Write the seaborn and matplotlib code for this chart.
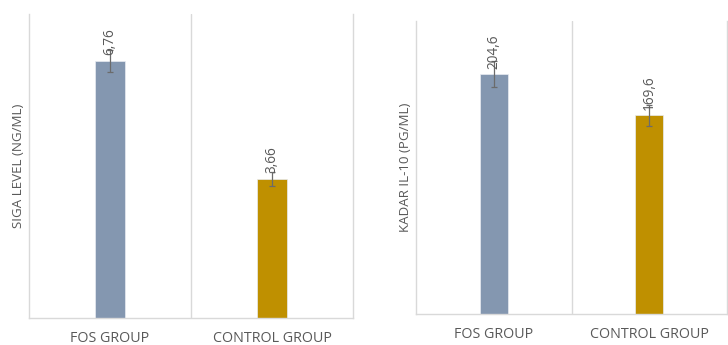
import matplotlib
matplotlib.use("Agg")
import matplotlib.pyplot as plt
import seaborn as sns
import pandas as pd

groups = ["FOS GROUP", "CONTROL GROUP"]
siga_values = [6.76, 3.66]
siga_errors = [0.28, 0.18]
siga_labels = ["6,76", "3,66"]
il10_values = [204.6, 169.6]
il10_errors = [11.0, 9.0]
il10_labels = ["204,6", "169,6"]
colors = ["#8497B0", "#BF9000"]

sns.set_theme(style="white")
plt.rcParams["font.family"] = ["Open Sans", "DejaVu Sans"]

TXT = "#595959"
GRID = "#D9D9D9"

W, H = 728, 345
fig = plt.figure(figsize=(W / 100, H / 100), dpi=100)
ax1 = fig.add_axes([29 / W, (H - 318) / H, (353 - 29) / W, (318 - 14) / H])
ax2 = fig.add_axes([416 / W, (H - 314) / H, (727 - 416) / W, (314 - 21) / H])


def panel(ax, values, errors, labels, ylabel, ymax, offset):
    df = pd.DataFrame({"group": groups, "value": values})
    sns.barplot(data=df, x="group", y="value", hue="group", palette=colors,
                width=0.18, legend=False, ax=ax, errorbar=None, saturation=1,
                edgecolor="#e8ecf2", linewidth=0.5)
    xs = range(len(groups))
    ax.errorbar(list(xs), values, yerr=errors, fmt="none", ecolor="#6b6b6b",
                elinewidth=0.9, capsize=2.2, capthick=0.9, zorder=5)
    for x, v, lab in zip(xs, values, labels):
        ax.text(x, v + offset, lab, rotation=90, ha="center", va="bottom",
                color=TXT, fontsize=9.8, zorder=6)
    ax.set_xlim(-0.5, 1.5)
    ax.set_ylim(0, ymax)
    ax.set_yticks([])
    ax.set_xlabel("")
    ax.set_ylabel(ylabel, color=TXT, fontsize=9.6, labelpad=3)
    ax.tick_params(axis="x", length=0, pad=9, labelsize=10.3, labelcolor=TXT)
    for lab in ax.get_xticklabels():
        lab.set_color(TXT)
    ax.axvline(0.5, color=GRID, lw=1.0, zorder=0)
    for s in ["left", "right", "bottom"]:
        ax.spines[s].set_visible(True)
        ax.spines[s].set_color(GRID)
        ax.spines[s].set_linewidth(1.0)
    ax.spines["top"].set_visible(False)


panel(ax1, siga_values, siga_errors, siga_labels, "SIGA LEVEL (NG/ML)", 8.0, 0.15)
panel(ax2, il10_values, il10_errors, il10_labels, "KADAR IL-10 (PG/ML)", 250, 4.5)

fig.savefig("out.png", dpi=100)
